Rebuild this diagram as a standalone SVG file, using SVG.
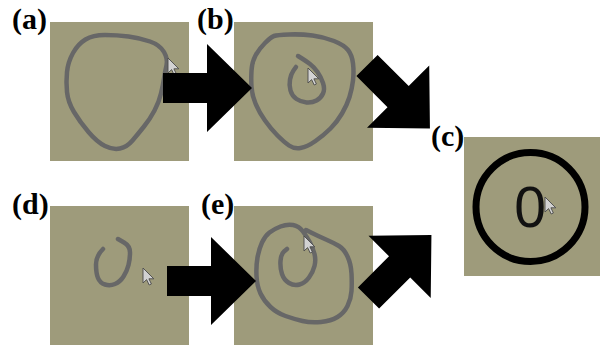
<svg xmlns="http://www.w3.org/2000/svg" xmlns:xlink="http://www.w3.org/1999/xlink" width="603" height="347" viewBox="0 0 603 347">
<style>
.panel{fill:#9e9b7b}
.ink{fill:none;stroke:#676767;stroke-width:4.5;stroke-linecap:round;stroke-linejoin:round}
.lbl{font-family:"Liberation Serif","Times New Roman",serif;font-weight:bold;font-size:30px;fill:#000}
.arrow{fill:#000}
</style>
<defs>
<path id="cur" d="M0,0 V15 L3.6,11.6 L6.2,17 L8.4,16 L5.9,10.8 L10.8,10.8 Z" fill="#d2d2d2" stroke="#4a4a4a" stroke-width="0.9" stroke-linejoin="round"/>
<path id="arr" d="M0,-15 H44 V-44 L89,0 L44,44 V15 H0 Z"/>
</defs>
<rect width="603" height="347" fill="#fff"/>

<g id="panel-a">
<rect class="panel" x="50" y="22" width="139" height="139"/>
<path class="ink" d="M166.5,65.5 Q168,59 164,52 Q160,45 150,41.5 Q140,38 128.5,36.5 Q117,35 105,35 Q93,35 85.5,39.5 Q78,44 73,53 Q68,62 67,72 Q66,82 67,92 Q68,102 74,112 Q80,122 88.5,132 Q97,142 105,146 Q113,150 120,148.5 Q127,147 132.5,140.5 Q138,134 144,126.5 Q150,119 154.5,110.5 Q159,102 161,93.5 Q163,85 164,78.5 Q165,72 166.5,65.5 Z"/>
<use xlink:href="#cur" href="#cur" x="168" y="58"/>
<text class="lbl" x="12" y="29">(a)</text>
</g>

<g id="panel-b">
<rect class="panel" x="234" y="22" width="139" height="139"/>
<path class="ink" d="M274,36 Q277,35 289,34.5 Q301,34 312.5,35.5 Q324,37 334,41 Q344,45 348,50 Q352,55 353,63.5 Q354,72 353,80.5 Q352,89 349.5,97 Q347,105 342,113.5 Q337,122 330.5,128.5 Q324,135 315.5,141 Q307,147 300.5,148 Q294,149 289,145.5 Q284,142 277.5,135.5 Q271,129 265,120.5 Q259,112 255.5,103.5 Q252,95 251.5,87 Q251,79 251.5,70.5 Q252,62 255.5,55.5 Q259,49 265,43 Q271,37 274,36 Z"/>
<path class="ink" d="M298,56 L302,58.5 Q306,61 310,64 Q314,67 317.5,72 Q321,77 323,83 Q325,89 323,93.5 Q321,98 316.5,100.5 Q312,103 306.5,102.5 Q301,102 296.5,99 Q292,96 290.5,90.5 Q289,85 290,79.5 Q291,74 293.5,70.5 L296,67"/>
<use xlink:href="#cur" href="#cur" x="308" y="68"/>
<text class="lbl" x="197" y="29">(b)</text>
</g>

<g id="panel-c">
<rect class="panel" x="464" y="137" width="136" height="139"/>
<circle cx="530.5" cy="207" r="54.5" fill="none" stroke="#000" stroke-width="7"/>
<text x="530" y="227" text-anchor="middle" font-family="Liberation Sans, Arial, sans-serif" font-size="57" fill="#111">0</text>
<use xlink:href="#cur" href="#cur" x="545" y="197"/>
<text class="lbl" x="431" y="146">(c)</text>
</g>

<g id="panel-d">
<rect class="panel" x="50" y="206" width="139" height="139"/>
<path class="ink" d="M103,249 Q96,256 96,264.5 Q96,273 98,278 Q100,283 105,284.5 Q110,286 115,284 Q120,282 123.5,276.5 Q127,271 128.5,265 Q130,259 130,252.5 Q130,246 124,242.5 L118,239"/>
<use xlink:href="#cur" href="#cur" x="143" y="268"/>
<text class="lbl" x="12" y="214">(d)</text>
</g>

<g id="panel-e">
<rect class="panel" x="234" y="206" width="139" height="139"/>
<path class="ink" d="M287,249 L284,251.5 Q281,254 280.5,261 Q280,268 282,274 Q284,280 289,283 Q294,286 299.5,284.5 Q305,283 309,277.5 Q313,272 314.5,266 Q316,260 314.5,254 Q313,248 310,242.5 Q307,237 303,231.5 Q299,226 293,225 Q287,224 280.5,226.5 Q274,229 269.5,232.5 Q265,236 262,242.5 Q259,249 257.5,257.5 Q256,266 256.5,276 Q257,286 260.5,293.5 Q264,301 270.5,307 Q277,313 285.5,316 Q294,319 302.5,321 Q311,323 321,322 Q331,321 337.5,317 Q344,313 347.5,306 Q351,299 351.5,291 Q352,283 351.5,273.5 Q351,264 347.5,256.5 Q344,249 339,246 Q334,243 326,239.5 Q318,236 312,233 L306,230"/>
<use xlink:href="#cur" href="#cur" x="304" y="236"/>
<text class="lbl" x="201" y="214">(e)</text>
</g>

<g id="connectors" class="arrow">
<use xlink:href="#arr" href="#arr" transform="translate(163,88)"/>
<use xlink:href="#arr" href="#arr" transform="translate(167,281)"/>
<use xlink:href="#arr" href="#arr" transform="translate(367,65.5) rotate(45)"/>
<use xlink:href="#arr" href="#arr" transform="translate(368.5,298) rotate(-45)"/>
</g>
</svg>
